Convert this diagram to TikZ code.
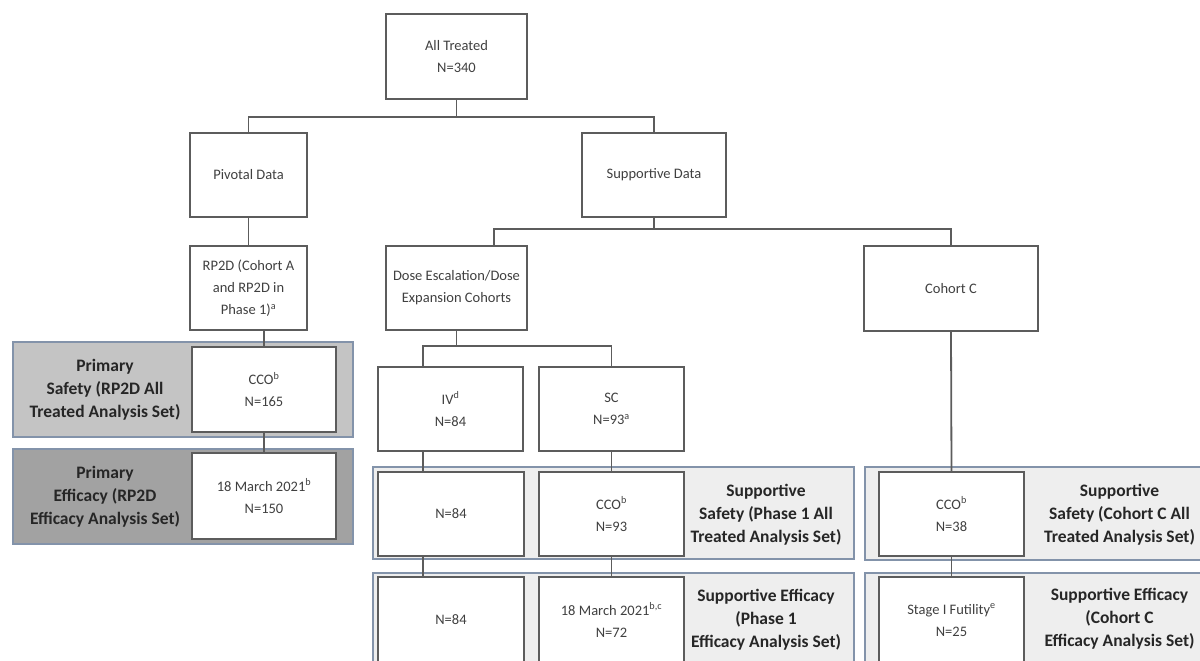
\documentclass[tikz,border=0pt]{standalone}
\usepackage{fontspec}
\setmainfont{Carlito}
\usepackage{xcolor}
\definecolor{linegray}{HTML}{5C5C5C}
\definecolor{boxtext}{HTML}{404040}
\definecolor{bandtext}{HTML}{262626}
\definecolor{bandedge}{HTML}{8393AA}
\definecolor{safegray}{HTML}{C4C4C4}
\definecolor{effgray}{HTML}{A2A2A2}
\definecolor{suppgray}{HTML}{EEEEEE}
\tikzset{
  box/.style={draw=linegray, line width=1.8pt, fill=white, align=center, text=boxtext,
    font=\fontsize{14.5}{22}\selectfont, inner sep=2pt},
  band/.style={draw=bandedge, line width=1.4pt, inner sep=0pt},
  bandlabel/.style={align=center, text=bandtext, font=\bfseries\fontsize{17.5}{23}\selectfont},
  link/.style={draw=linegray, line width=1.8pt}
}

\begin{document}
\begin{tikzpicture}[x=1pt,y=-1pt]
    \useasboundingbox (0,0) rectangle (1200,661);
    \clip (0,0) rectangle (1200,661);
    % analysis set bands
    \node[band, fill=safegray, minimum width=340pt, minimum height=95pt] (psafe) at (183,389.5) {};
    \node[band, fill=effgray, minimum width=340pt, minimum height=95pt] (peff) at (183,496.5) {};
    \node[band, fill=suppgray, minimum width=481pt, minimum height=92pt] (ssafe) at (613.5,513) {};
    \node[band, fill=suppgray, minimum width=481pt, minimum height=96pt] (seff) at (613.5,621) {};
    \node[band, fill=suppgray, minimum width=345pt, minimum height=93pt] (csafe) at (1037.5,513.5) {};
    \node[band, fill=suppgray, minimum width=345pt, minimum height=96pt] (ceff) at (1037.5,621) {};
    \node[bandlabel] (psafetxt) at (105,390) {Primary\\Safety (RP2D All\\Treated Analysis Set)};
    \node[bandlabel] (pefftxt) at (105,497) {Primary\\Efficacy (RP2D\\Efficacy Analysis Set)};
    \node[bandlabel] (ssafetxt) at (766,515) {Supportive\\Safety (Phase 1 All\\Treated Analysis Set)};
    \node[bandlabel] (sefftxt) at (766,620) {Supportive Efficacy\\(Phase 1\\Efficacy Analysis Set)};
    \node[bandlabel] (csafetxt) at (1119.5,515) {Supportive\\Safety (Cohort C All\\Treated Analysis Set)};
    \node[bandlabel] (cefftxt) at (1119.5,619) {Supportive Efficacy\\(Cohort C\\Efficacy Analysis Set)};
    % tree boxes
    \node[box, minimum width=141pt, minimum height=85pt] (all) at (456.5,56.5) {All Treated\\N=340};
    \node[box, minimum width=117pt, minimum height=84pt] (pivot) at (248.5,175) {Pivotal Data};
    \node[box, minimum width=144pt, minimum height=84pt] (support) at (654,175) {Supportive Data};
    \node[box, minimum width=117pt, minimum height=84pt] (rptwod) at (248.5,288) {RP2D (Cohort A\\and RP2D in\\Phase 1)\textsuperscript{a}};
    \node[box, minimum width=141pt, minimum height=84pt] (dose) at (456.5,288) {Dose Escalation/Dose\\Expansion Cohorts};
    \node[box, minimum width=174pt, minimum height=85pt] (cohortc) at (951,288.5) {Cohort C};
    \node[box, minimum width=145pt, minimum height=84pt] (iv) at (450.5,409) {IV\textsuperscript{d}\\N=84};
    \node[box, minimum width=145pt, minimum height=84pt] (sc) at (611.5,409) {SC\\N=93\textsuperscript{a}};
    \node[box, minimum width=144pt, minimum height=85pt] (pcco) at (264,389.5) {CCO\textsuperscript{b}\\N=165};
    \node[box, minimum width=144pt, minimum height=86pt] (pmarch) at (264,496) {18 March 2021\textsuperscript{b}\\N=150};
    \node[box, minimum width=146pt, minimum height=84pt] (ivsafe) at (451,514) {N=84};
    \node[box, minimum width=145pt, minimum height=84pt] (scsafe) at (611.5,514) {CCO\textsuperscript{b}\\N=93};
    \node[box, minimum width=146pt, minimum height=86pt] (iveff) at (451,620) {N=84};
    \node[box, minimum width=145pt, minimum height=86pt] (sceff) at (611.5,620) {18 March 2021\textsuperscript{b,c}\\N=72};
    \node[box, minimum width=145pt, minimum height=84pt] (csafebox) at (951.5,514) {CCO\textsuperscript{b}\\N=38};
    \node[box, minimum width=145pt, minimum height=86pt] (ceffbox) at (951.5,620) {Stage I Futility\textsuperscript{e}\\N=25};
    % connectors
    \coordinate (busa) at (456.5,117);
    \coordinate (busb) at (654,229);
    \coordinate (busc) at (456.5,346);
    \draw[link] (all.south) -- (busa);
    \draw[link] (pivot.north) |- (busa) -| (support.north);
    \draw[link] (pivot.south) -- (rptwod.north);
    \draw[link] (pcco.north) -- (pcco.north |- rptwod.south);
    \draw[link] (pcco.south) -- (pmarch.north);
    \draw[link] (support.south) -- (busb);
    \draw[link] ([xshift=37.5pt]dose.north) |- (busb) -| (cohortc.north);
    \draw[link] (dose.south) -- (busc);
    \draw[link] ([xshift=-27.5pt]iv.north) |- (busc) -| (sc.north);
    \draw[link] ([xshift=-27.5pt]iv.south) -- ([xshift=-27.5pt]iv.south |- ivsafe.north);
    \draw[link] ([xshift=-28pt]ivsafe.south) -- ([xshift=-28pt]ivsafe.south |- iveff.north);
    \draw[link] (sc.south) -- (scsafe.north);
    \draw[link] (scsafe.south) -- (sceff.north);
    \draw[link] (cohortc.south) -- (csafebox.north);
    \draw[link] (csafebox.south) -- (ceffbox.north);
\end{tikzpicture}
\end{document}
